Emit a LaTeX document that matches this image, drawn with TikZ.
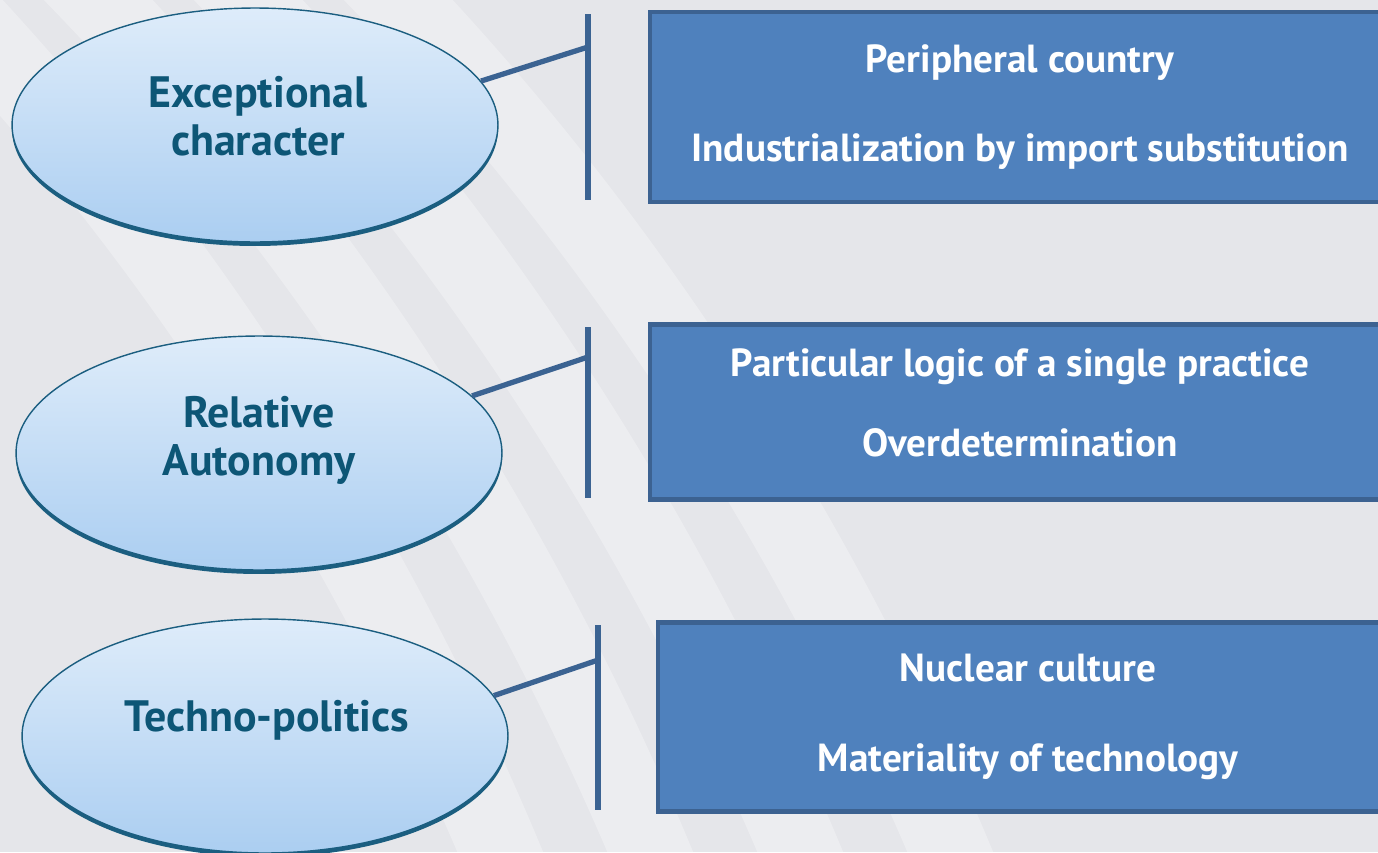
\documentclass[tikz,border=0pt]{standalone}
\usepackage{fontspec}
\setmainfont{PT Sans}
\usetikzlibrary{shapes.geometric}
\definecolor{bgray}{HTML}{E5E6EA}
\definecolor{ovaltop}{HTML}{DEECFA}
\definecolor{ovalbot}{HTML}{ABCEF1}
\definecolor{ovalrim}{HTML}{1B5E80}
\definecolor{ovaltext}{HTML}{0D5676}
\definecolor{linkblue}{HTML}{3B6392}
\definecolor{boxfill}{HTML}{4F81BD}
\definecolor{boxrim}{HTML}{3C6291}
\begin{document}
\begin{tikzpicture}[x=0.02cm,y=-0.02cm,
    oval/.style={ellipse,minimum width=9.72cm,minimum height=4.68cm,top color=ovaltop,bottom color=ovalbot,
      draw=ovalrim,line width=0.8pt},
    rim/.style={ellipse,minimum width=9.72cm,minimum height=4.68cm,fill=ovalrim},
    ovaltxt/.style={text=ovaltext,font=\fontsize{25}{27.3}\selectfont\bfseries,align=center},
    infobox/.style={rectangle,minimum width=14.8cm,draw=boxrim,line width=2.5pt,fill=boxfill,
      text=white,font=\fontsize{22.3}{27}\selectfont\bfseries,align=center},
    bar/.style={draw=linkblue,line width=3pt}]
    \clip (0,0) rectangle (1378,852);
    \fill[bgray] (0,0) rectangle (1378,852);
    % light swooshes in the background
    \foreach \k in {0,150,300,450} {
      \draw[white,opacity=0.3,line width=45pt] (-100+\k,-50) .. controls (200+\k,250) and (400+\k,600) .. (520+\k,900);
    }
    % ovals
    \node[rim] (exr) at (255,129) {};
    \node[oval] (ex) at (255,125) {};
    \node[ovaltxt] (ext) at (258,116) {Exceptional\\character};
    \node[rim] (rar) at (259,457) {};
    \node[oval] (ra) at (259,453) {};
    \node[ovaltxt] (rat) at (259,440) {Relative\\Autonomy};
    \node[rim] (tpr) at (265,740) {};
    \node[oval] (tp) at (265,736) {};
    \node[ovaltxt] (tpt) at (267,720) {Techno-politics};
    % bars
    \coordinate (b1t) at (588,14);  \coordinate (b1b) at (588,200);  \coordinate (b1) at (588,47);
    \coordinate (b2t) at (588,327); \coordinate (b2b) at (588,498);  \coordinate (b2) at (588,357);
    \coordinate (b3t) at (598,625); \coordinate (b3b) at (598,810);  \coordinate (b3) at (598,660);
    \draw[bar] (b1t) -- (b1b);
    \draw[bar] (b2t) -- (b2b);
    \draw[bar] (b3t) -- (b3b);
    \draw[bar] (ex.11) -- (b1);
    \draw[bar] (ra.15.5) -- (b2);
    \draw[bar] (tp.10.6) -- (b3);
    % boxes
    \node[infobox,minimum height=3.8cm] (pc) at (1020,107) {Peripheral country\\[0.83cm]Industrialization by import substitution};
    \node[infobox,minimum height=3.5cm,text depth=0.36cm] (pl) at (1020,412) {Particular logic of a single practice\\[0.65cm]Overdetermination};
    \node[infobox,minimum height=3.78cm] (nc) at (1028,717) {Nuclear culture\\[0.85cm]Materiality of technology};
\end{tikzpicture}
\end{document}
